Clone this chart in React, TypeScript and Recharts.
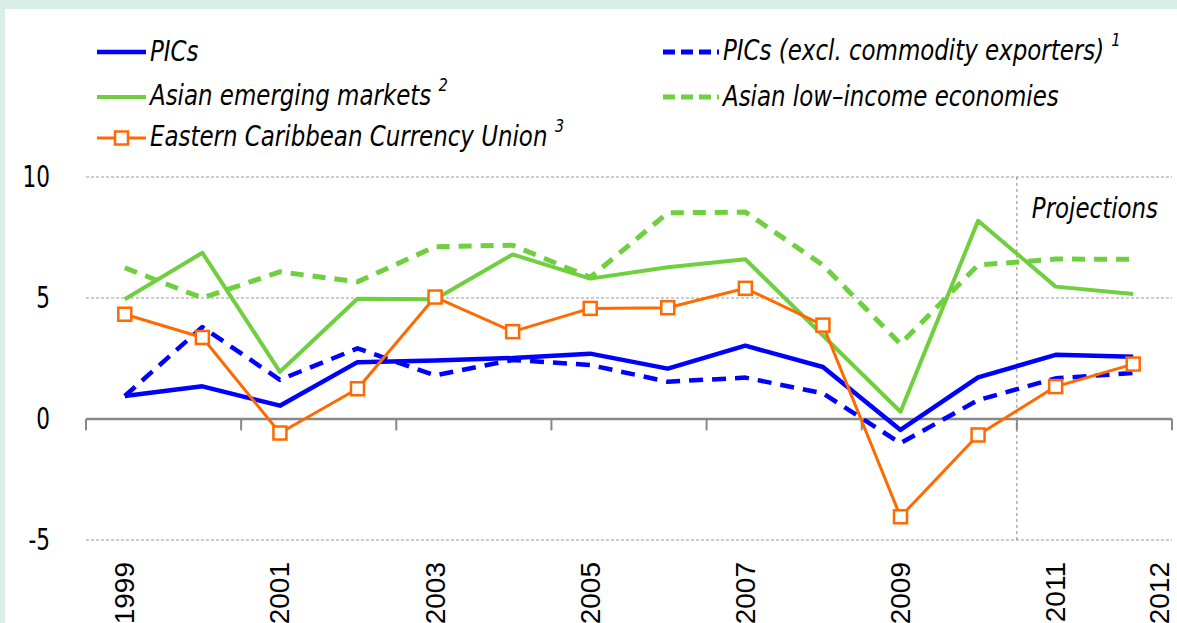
import React from 'react';
import { LineChart, Line, XAxis, YAxis, CartesianGrid, ReferenceLine, Legend } from 'recharts';

const YEARS = ['1999', '2000', '2001', '2002', '2003', '2004', '2005', '2006', '2007', '2008', '2009', '2010', '2011', '2012'];
const PICS = [0.95, 1.35, 0.55, 2.35, 2.42, 2.52, 2.7, 2.08, 3.03, 2.15, -0.45, 1.72, 2.65, 2.57];
const PICS_EXCL = [0.95, 3.8, 1.62, 2.92, 1.8, 2.44, 2.23, 1.54, 1.71, 1.06, -1.0, 0.78, 1.68, 1.9];
const ASIA_EM = [4.95, 6.87, 1.95, 4.97, 4.95, 6.8, 5.8, 6.27, 6.6, 3.45, 0.3, 8.19, 5.47, 5.17];
const ASIA_LI = [6.25, 5.0, 6.08, 5.67, 7.12, 7.18, 5.85, 8.52, 8.55, 6.36, 3.1, 6.36, 6.61, 6.6];
const ECCU = [4.33, 3.37, -0.58, 1.25, 5.04, 3.61, 4.57, 4.6, 5.4, 3.88, -4.04, -0.66, 1.34, 2.27];

const Y_TICKS = [-5, 0, 5, 10];
const SHOWN_X_LABELS = ['1999', '2001', '2003', '2005', '2007', '2009', '2011', '2012'];
const BOUNDARY_TICKS = [0, 2, 4, 6, 8, 10, 12, 14];
const PROJECTION_START = 12;
const PROJECTION_LABEL = 'Projections';

const BLUE = '#0000ff';
const GREEN = '#6fcf3f';
const ORANGE = '#ff6a00';
const MINT = '#d8efe6';
const GRID = '#9a9a9a';
const AXIS = '#888888';

const NARROW = '"Liberation Sans Narrow", "Arial Narrow", "DejaVu Sans Condensed", "DejaVu Sans", sans-serif';
const WIDE = '"Liberation Sans", Arial, sans-serif';
const SQUEEZE = 0.91;

const SERIES = [
  { key: 'pics', name: 'PICs', sup: '', values: PICS, color: BLUE, width: 4.5, dash: undefined as string | undefined, marker: false },
  { key: 'picsExcl', name: 'PICs (excl. commodity exporters)', sup: '1', values: PICS_EXCL, color: BLUE, width: 4.5, dash: '14 9', marker: false },
  { key: 'asiaEm', name: 'Asian emerging markets', sup: '2', values: ASIA_EM, color: GREEN, width: 4, dash: undefined, marker: false },
  { key: 'asiaLi', name: 'Asian low\u2013income economies', sup: '', values: ASIA_LI, color: GREEN, width: 5, dash: '13 9', marker: false },
  { key: 'eccu', name: 'Eastern Caribbean Currency Union', sup: '3', values: ECCU, color: ORANGE, width: 3, dash: undefined, marker: true },
];

const LEGEND_SLOTS = [
  { left: 97, top: 52 },
  { left: 663, top: 52 },
  { left: 97, top: 97 },
  { left: 663, top: 97 },
  { left: 97, top: 138 },
];

// category index -> centre of its band on the numeric axis
const data = YEARS.map((year, i) => {
  const row: Record<string, string | number> = { year, pos: i + 0.5 };
  SERIES.forEach((s) => {
    row[s.key] = s.values[i];
  });
  return row;
});

const X_TICKS = SHOWN_X_LABELS.map((l) => YEARS.indexOf(l) + 0.5);
const yearAt = (v: number) => YEARS[Math.floor(v)] ?? '';

const SquareDot = (props: any) => {
  const { cx, cy, index } = props;
  if (cx == null || cy == null) return <g key={`d${index}`} />;
  return (
    <rect key={`d${index}`} x={cx - 6.5} y={cy - 6.5} width={13} height={13} fill="#ffffff" stroke={ORANGE} strokeWidth={2.5} />
  );
};

const XTick = (props: any) => {
  const { x, y, payload } = props;
  const label = yearAt(Number(payload.value));
  const shift = label === YEARS[YEARS.length - 1] ? 26 : 0;
  return (
    <text
      transform={`translate(${x + shift},${y}) rotate(-90)`}
      textAnchor="end"
      dominantBaseline="central"
      fontFamily={WIDE}
      fontSize={28}
      fill="#000"
    >
      {label}
    </text>
  );
};

const YTick = (props: any) => {
  const { x, y, payload } = props;
  return (
    <text
      transform={`translate(${x},${y}) scale(0.8,1)`}
      textAnchor="end"
      dominantBaseline="central"
      fontFamily={NARROW}
      fontSize={30}
      fill="#000"
    >
      {payload.value}
    </text>
  );
};

const LegendContent = () => (
  <div style={{ position: 'relative', width: 1177, height: 170 }}>
    {SERIES.map((s, i) => {
      const slot = LEGEND_SLOTS[i];
      const iconW = s.dash ? 56 : 49;
      return (
        <div key={s.key} style={{ position: 'absolute', left: slot.left, top: slot.top - 20, height: 40, display: 'flex', alignItems: 'center' }}>
          <svg width={iconW} height={20} style={{ display: 'block' }}>
            <line x1={0} x2={iconW} y1={10} y2={10} stroke={s.color} strokeWidth={s.dash ? 5 : s.width} strokeDasharray={s.dash ? '12 6' : undefined} strokeLinecap="butt" />
            {s.marker && <rect x={iconW / 2 - 6.5} y={3.5} width={13} height={13} fill="#fff" stroke={s.color} strokeWidth={2.5} />}
          </svg>
          <span
            style={{
              display: 'inline-block',
              fontFamily: NARROW,
              fontStyle: 'italic',
              fontSize: 28,
              color: '#000',
              marginLeft: 4,
              whiteSpace: 'nowrap',
              lineHeight: '40px',
              transform: `scaleX(${SQUEEZE})`,
              transformOrigin: 'left center',
            }}
          >
            {s.name}
            {s.sup && <span style={{ fontSize: 18, position: 'relative', top: -14, marginLeft: 8 }}>{s.sup}</span>}
          </span>
        </div>
      );
    })}
  </div>
);

const ProjectionLabel = (props: any) => {
  const vb = props.viewBox || {};
  return (
    <text
      transform={`translate(${vb.x + 15},${vb.y + 41}) scale(${SQUEEZE},1)`}
      fontFamily={NARROW}
      fontStyle="italic"
      fontSize={28}
      fill="#000"
    >
      {PROJECTION_LABEL}
    </text>
  );
};

export default function App() {
  return (
    <div style={{ position: 'fixed', left: 0, top: 0, width: 1177, height: 623, background: MINT, overflow: 'hidden' }}>
      <div style={{ position: 'absolute', left: 5, top: 9, right: 0, bottom: 0, background: '#ffffff' }} />
      <div style={{ position: 'absolute', left: 0, top: 0 }}>
        <LineChart width={1177} height={623} data={data} margin={{ top: 177, right: 5, bottom: 23, left: 0 }}>
          <CartesianGrid vertical={false} stroke={GRID} strokeDasharray="3 2" strokeWidth={1} />
          <XAxis
            dataKey="pos"
            type="number"
            domain={[0, 14]}
            allowDataOverflow
            ticks={X_TICKS}
            interval={0}
            axisLine={false}
            tickLine={false}
            tickSize={0}
            tickMargin={22}
            height={60}
            tick={<XTick />}
          />
          <YAxis
            domain={[-5, 10]}
            ticks={Y_TICKS}
            interval={0}
            axisLine={false}
            tickLine={false}
            tickSize={0}
            tickMargin={36}
            width={86}
            tick={<YTick />}
          />
          <ReferenceLine y={0} stroke={AXIS} strokeWidth={2.5} />
          {BOUNDARY_TICKS.map((t) => (
            <ReferenceLine key={`bt${t}`} segment={[{ x: t, y: 0 }, { x: t, y: -0.47 }]} stroke={AXIS} strokeWidth={2} />
          ))}
          <ReferenceLine x={PROJECTION_START} stroke={AXIS} strokeDasharray="3 3" strokeWidth={1} label={<ProjectionLabel />} />
          {SERIES.map((s) => (
            <Line
              key={s.key}
              type="linear"
              dataKey={s.key}
              name={s.name}
              stroke={s.color}
              strokeWidth={s.width}
              strokeDasharray={s.dash}
              strokeLinejoin="round"
              dot={s.marker ? <SquareDot /> : false}
              activeDot={false}
              isAnimationActive={false}
            />
          ))}
          <Legend verticalAlign="middle" align="center" layout="horizontal" wrapperStyle={{ top: 0, left: 0, width: 1177, height: 170 }} content={<LegendContent />} />
        </LineChart>
      </div>
    </div>
  );
}
